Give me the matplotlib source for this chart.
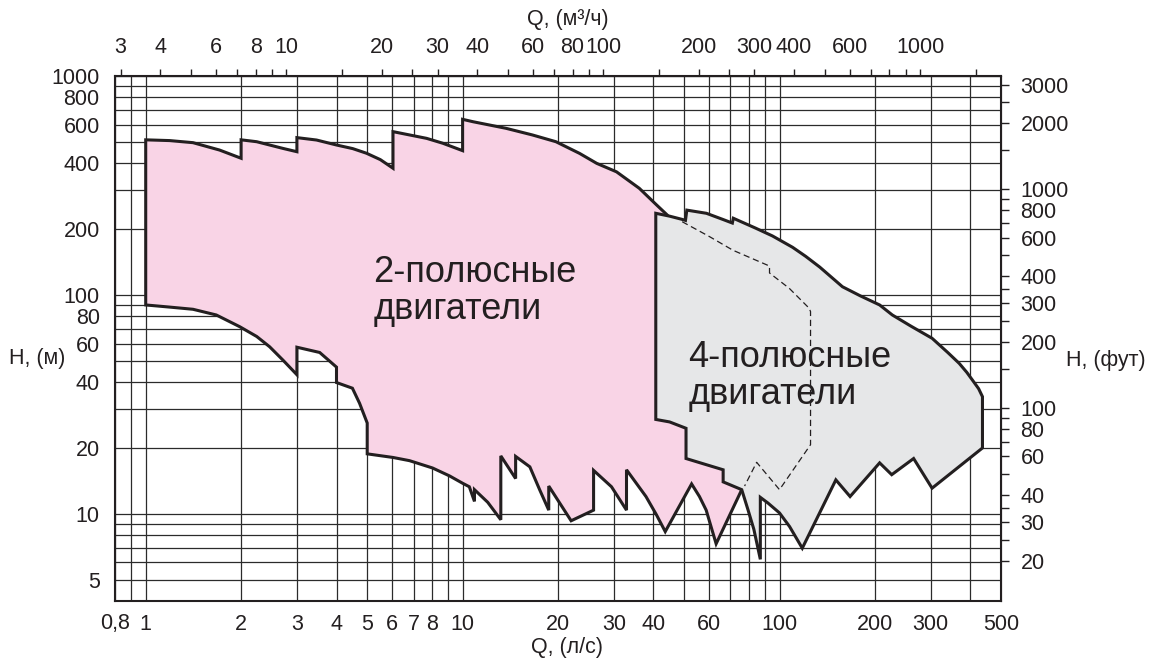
import numpy as np
import matplotlib
matplotlib.use("Agg")
import matplotlib.pyplot as plt
from matplotlib.ticker import LogLocator, NullFormatter

plt.rcParams['font.family'] = ['Liberation Sans', 'DejaVu Sans']
INK = '#231f20'

# 2-pole field (Q l/s, H m), traced clockwise from the lower left corner
pink_q = [1, 1, 1.19, 1.41, 1.71, 2.0, 2.0, 2.24, 2.46, 2.71, 3.0, 3.0, 3.46, 4.0, 4.5, 4.97,
          5.5, 6.03, 6.03, 7.7, 8.66, 10.0, 10.0, 10.8, 13.7, 16.6, 19.7, 23.4, 26.5, 30.6,
          36.1, 40.9, 44.2, 48, 60, 72, 76,
          63.1, 58.7, 55.9, 52.8, 43.6, 40.9, 37.9, 32.9, 32.9, 29.5, 25.9, 25.9, 22.0,
          18.7, 18.7, 17.5, 16.3, 14.7, 14.7, 13.2, 13.2, 12.0, 10.9, 10.9, 10.5, 10.0,
          9.1, 8.04, 6.8, 6.03, 5.0, 5.0, 4.73, 4.49, 4.0, 4.0, 3.54, 3.0, 3.0, 2.71, 2.46,
          2.24, 1.98, 1.67, 1.41, 1.19]
pink_h = [90, 511, 507, 496, 459, 421, 511, 501, 484, 467, 451, 523, 510, 484, 466, 444,
          415, 379, 557, 519, 493, 456, 634, 618, 577, 538, 501, 443, 399, 365,
          307, 258, 232, 200, 60, 18, 12.9,
          7.3, 10.4, 12.0, 13.7, 8.3, 9.9, 12.0, 15.9, 10.4, 13.3, 15.8, 10.4, 9.3,
          13.4, 10.4, 12.9, 16.4, 18.3, 14.5, 18.4, 9.4, 11.3, 12.9, 11.4, 13.3, 13.8,
          14.9, 16.2, 17.5, 18.1, 18.8, 26.0, 32.0, 37.5, 39.8, 46.8, 54.6, 57.7, 43.2, 50.4, 58,
          64.6, 71.6, 81, 86, 88]

# 4-pole field
gray_q = [40.7, 40.7, 45, 49.5, 50.5, 51, 58.8, 66.4, 71, 71.5, 84, 95, 110, 121, 134, 158,
          180, 207, 227, 260, 303, 340, 369, 390, 406, 425, 437, 437, 303, 265, 226, 207, 167,
          150.6, 118, 107.6, 100, 92, 87, 87, 83, 79.6, 76, 66.4, 66.4, 57, 50.7, 50.7, 45]
gray_h = [27.0, 236, 229, 221, 219, 244, 236, 221, 213, 224, 202, 186, 165, 150, 134, 109,
          99, 90, 81, 72, 63.4, 54.5, 48.7, 44.3, 40.9, 37.3, 34.3, 20, 13.1, 17.9, 15.1, 17.1, 12.0,
          14.3, 6.97, 8.75, 10.1, 11.2, 11.9, 6.2, 8.5, 10.4, 12.9, 14.0, 15.9, 17.0, 17.9, 24.6, 26.3]

# dashed boundary inside the 4-pole field
dash_q = [49.3, 60, 71.3, 93, 93, 107.5, 124, 125.3, 125.3, 100, 84.7, 77.6]
dash_h = [216, 185, 160, 135.5, 126, 107, 87, 84, 20.7, 12.9, 17.2, 13.4]

# axis ticks
q_ticks = [0.8, 1, 2, 3, 4, 5, 6, 7, 8, 10, 20, 30, 40, 60, 100, 200, 300, 500]
q_labels = ['0,8', '1', '2', '3', '4', '5', '6', '7', '8', '10', '20', '30', '40', '60',
            '100', '200', '300', '500']
h_ticks = [5, 10, 20, 40, 60, 80, 100, 200, 400, 600, 800, 1000]
m3h_ticks = [3, 4, 6, 8, 10, 20, 30, 40, 60, 80, 100, 200, 300, 400, 600, 1000]
m3h_minor = [5, 7, 9, 15, 25, 50, 70, 90, 150, 250, 500, 700, 800, 900, 1500]
ft_ticks = [20, 30, 40, 60, 80, 100, 200, 300, 400, 600, 800, 1000, 2000, 3000]
ft_minor = [25, 35, 50, 70, 90, 150, 250, 350, 500, 700, 900, 1500, 2500]

fig = plt.figure(figsize=(11.54, 6.59), dpi=100)
ax = fig.add_axes([115/1154, 1 - 601/659, 886/1154, 525/659])
ax.set_xscale('log')
ax.set_yscale('log')
ax.set_xlim(0.8, 500)
ax.set_ylim(4, 1000)

ax.set_xticks(q_ticks, q_labels)
ax.set_yticks(h_ticks, [str(v) for v in h_ticks])
ax.xaxis.set_minor_locator(LogLocator(base=10, subs=np.arange(2, 10), numticks=50))
ax.yaxis.set_minor_locator(LogLocator(base=10, subs=np.arange(2, 10), numticks=50))
ax.xaxis.set_minor_formatter(NullFormatter())
ax.yaxis.set_minor_formatter(NullFormatter())
ax.tick_params(which='both', length=0, labelsize=15.5, labelcolor=INK)
ax.tick_params(axis='x', pad=9)
ax.tick_params(axis='y', pad=11)
ax.set_axisbelow(True)
ax.grid(which='both', color='#2b2b2b', lw=0.9)
for s in ax.spines.values():
    s.set_linewidth(1.5)
    s.set_color(INK)

ax.fill(pink_q, pink_h, facecolor='#f9d4e6', edgecolor=INK, lw=2.2, zorder=2)
ax.fill(gray_q, gray_h, facecolor='#e6e7e8', edgecolor=INK, lw=2.2, zorder=3)
ax.plot(dash_q, dash_h, color=INK, lw=0.9, dashes=(5, 3), zorder=4)

ax.text(5.22, 114.3, '2-полюсные', fontsize=26, color=INK, zorder=5)
ax.text(5.22, 77.6, 'двигатели', fontsize=26, color=INK, zorder=5)
ax.text(51.6, 46.9, '4-полюсные', fontsize=26, color=INK, zorder=5)
ax.text(51.6, 31.8, 'двигатели', fontsize=26, color=INK, zorder=5)

top = ax.secondary_xaxis('top', functions=(lambda q: q * 3.6, lambda m: m / 3.6))
top.set_xticks(m3h_ticks, [str(v) for v in m3h_ticks])
top.set_xticks(m3h_minor, minor=True)
top.xaxis.set_minor_formatter(NullFormatter())
top.tick_params(which='both', direction='out', length=5, width=1, pad=8,
                labelsize=15.5, labelcolor=INK, color=INK)

right = ax.secondary_yaxis('right', functions=(lambda h: h * 3.2808, lambda f: f / 3.2808))
right.set_yticks(ft_ticks, [str(v) for v in ft_ticks])
right.set_yticks(ft_minor, minor=True)
right.yaxis.set_minor_formatter(NullFormatter())
right.tick_params(which='both', direction='out', length=6, width=1, pad=8,
                  labelsize=15.5, labelcolor=INK, color=INK)

fig.text(568/1154, 1 - 20/659, 'Q, (м³/ч)', ha='center', va='center', fontsize=15.5, color=INK)
fig.text(567/1154, 1 - 648/659, 'Q, (л/с)', ha='center', va='center', fontsize=15.5, color=INK)
fig.text(37/1154, 1 - 359/659, 'H, (м)', ha='center', va='center', fontsize=15.5, color=INK)
fig.text(1106/1154, 1 - 361/659, 'H, (фут)', ha='center', va='center', fontsize=15.5, color=INK)

fig.savefig('out.png', dpi=100)
